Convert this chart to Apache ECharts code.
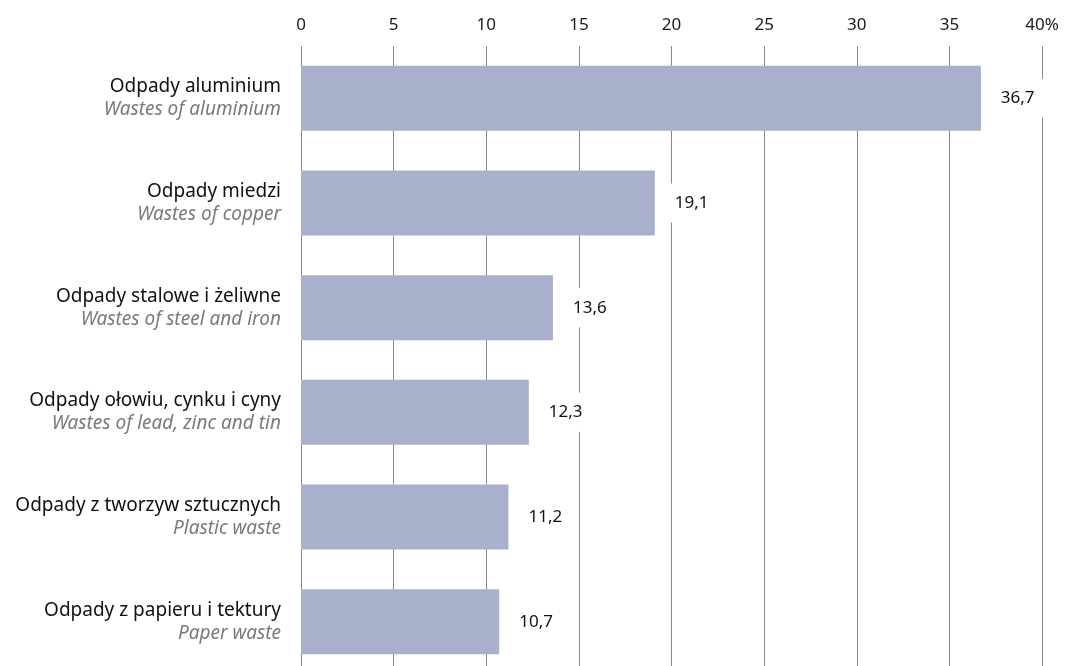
<!DOCTYPE html>
<html><head><meta charset="utf-8">
<script src="https://cdn.jsdelivr.net/npm/echarts@6/dist/echarts.min.js"></script>
<style>html,body{margin:0;padding:0;background:#fff;overflow:hidden;width:1075px;height:666px}#c{width:1075px;height:674px}</style>
</head><body><div id="c"></div>
<script>
const categoriesPl = ['Odpady aluminium','Odpady miedzi','Odpady stalowe i żeliwne','Odpady ołowiu, cynku i cyny','Odpady z tworzyw sztucznych','Odpady z papieru i tektury'];
const categoriesEn = ['Wastes of aluminium','Wastes of copper','Wastes of steel and iron','Wastes of lead, zinc and tin','Plastic waste','Paper waste'];
const values = [36.7, 19.1, 13.6, 12.3, 11.2, 10.7];
const xTicks = ['0','5','10','15','20','25','30','35','40%'];

const FONT = 'Noto Sans';
const chart = echarts.init(document.getElementById('c'), null, {renderer:'canvas'});
chart.setOption({
  animation:false,
  grid:{left:301, right:33, top:46, bottom:0, containLabel:false},
  xAxis:{
    type:'value', position:'top', min:0, max:40, interval:5,
    axisLine:{show:false}, axisTick:{show:false},
    axisLabel:{margin:12, color:'#1a1a1a', fontFamily:FONT, fontSize:17,
      formatter:(v)=>xTicks[Math.round(v/5)]},
    splitLine:{show:true, lineStyle:{color:'#8a8a8a', width:1}}
  },
  yAxis:{
    type:'category', inverse:true,
    data:categoriesPl.map((p,i)=>p+'\n'+categoriesEn[i]),
    axisLine:{show:false}, axisTick:{show:false},
    axisLabel:{margin:20, align:'right',
      formatter:(v)=>{const [a,b]=v.split('\n');return '{a|'+a+'}\n{b|'+b+'}';},
      rich:{
        a:{fontFamily:FONT, fontSize:19, color:'#111', lineHeight:23, align:'right'},
        b:{fontFamily:FONT, fontSize:19, color:'#7a7a7a', fontStyle:'italic', lineHeight:23, align:'right'}
      }}
  },
  series:[{
    type:'bar', data:values, barWidth:65,
    itemStyle:{color:'#a9b0cc'},
    label:{show:true, position:'right', distance:8,
      formatter:(p)=>String(p.value).replace('.',','),
      fontFamily:FONT, fontSize:17, color:'#111',
      backgroundColor:'#fff', padding:[11,16,11,12]}
  }]
});
</script></body></html>
